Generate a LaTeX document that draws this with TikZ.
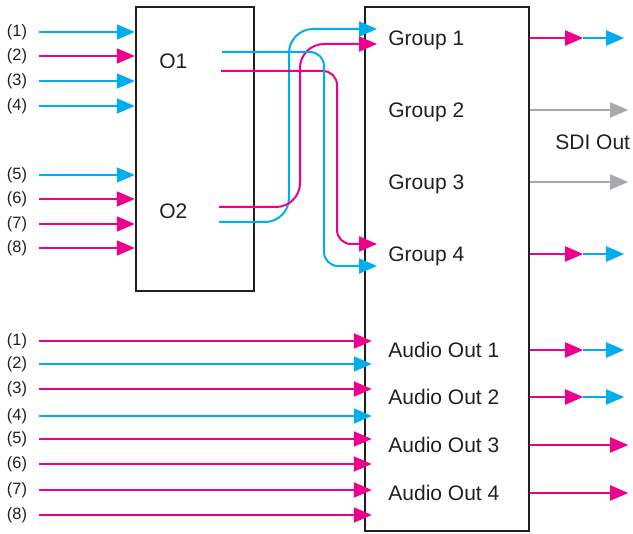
\documentclass[tikz,border=0pt]{standalone}
\usepackage{fontspec}
\setmainfont{Liberation Sans}
\usetikzlibrary{arrows.meta}
\definecolor{sdicyan}{RGB}{0,174,239}
\definecolor{sdimagenta}{RGB}{236,0,140}
\definecolor{sdigray}{RGB}{167,169,172}
\definecolor{sdiink}{RGB}{35,31,32}

\begin{document}
\begin{tikzpicture}[x=0.5pt, y=-0.5pt,
    sig/.style={line width=1pt, -{Triangle[length=9pt,width=7.5pt]}},
    box/.style={draw=sdiink, line width=1.2pt, inner sep=0pt},
    num/.style={font=\fontsize{8.2}{9}\selectfont, text=sdiink, inner sep=0pt},
    txt/.style={font=\fontsize{10.5}{12}\selectfont, text=sdiink, inner sep=0pt, anchor=base west}]

\useasboundingbox (0,0) rectangle (633,534);

% Blocks
\node[box, minimum width=59pt, minimum height=142pt] (mux) at (195,149) {};
\node[box, minimum width=82pt, minimum height=262pt] (sdi) at (447,269) {};

% Texts in the blocks
\node[txt] (o1) at (159,69) {O1};
\node[txt] (o2) at (159,219) {O2};
\foreach \n/\y in {1/38, 2/110, 3/182, 4/254}{
  \node[txt] (g\n) at (388,\y+7.5) {Group \n};
}
\foreach \n/\y in {1/350, 2/397, 3/445, 4/493}{
  \node[txt] (a\n) at (388,\y+7.5) {Audio Out \n};
}
\node[txt] (sdiout) at (555,150) {SDI Out};

% Inputs of the left block
\foreach \n/\y/\c in {1/32/sdicyan, 2/56/sdimagenta, 3/81/sdicyan, 4/106/sdicyan,
                      5/175/sdicyan, 6/199/sdimagenta, 7/224/sdimagenta, 8/248/sdimagenta}{
  \node[num] (in\n) at (17,\y) {(\n)};
  \draw[sig, \c] ([xshift=6pt]in\n.east) -- (in\n -| mux.west);
}

% Audio inputs
\foreach \n/\y/\c in {1/341/sdimagenta, 2/364/sdicyan, 3/389/sdimagenta, 4/416/sdicyan,
                      5/439/sdimagenta, 6/464/sdimagenta, 7/490/sdimagenta, 8/515/sdimagenta}{
  \node[num] (ain\n) at (17,\y) {(\n)};
  \coordinate (ain\n-end) at ([xshift=4pt]ain\n -| sdi.west);
  \draw[sig, \c] ([xshift=6pt]ain\n.east) -- (ain\n-end);
}

% O1/O2 routed to Group 1 and Group 4
\coordinate (o1c) at (222,52);
\coordinate (o1m) at (221,71);
\coordinate (o2m) at (219,207);
\coordinate (o2c) at (219,222);
\coordinate (g1a) at (377,29);
\coordinate (g1b) at (377,44);
\coordinate (g4a) at (377,244);
\coordinate (g4b) at (377,266);
\draw[sig, sdicyan, rounded corners=12pt] (o2c) -| (289,29) -- (g1a);
\draw[sig, sdimagenta, rounded corners=12pt] (o2m) -| (300,44) -- (g1b);
\draw[sig, sdimagenta, rounded corners=7pt] (o1m) -| (337,244) -- (g4a);
\draw[sig, sdicyan, rounded corners=7pt] (o1c) -| (324,266) -- (g4b);

% Outputs
\foreach \r in {g1, g4, a1, a2}{
  \coordinate (\r-out) at ([yshift=3.75pt]\r.base -| sdi.east);
  \draw[sig, sdimagenta] (\r-out) -- ++(53,0) coordinate (\r-mid);
  \draw[sig, sdicyan] (\r-mid) -- ++(41,0);
}
\foreach \r/\c in {g2/sdigray, g3/sdigray, a3/sdimagenta, a4/sdimagenta}{
  \coordinate (\r-out) at ([yshift=3.75pt]\r.base -| sdi.east);
  \draw[sig, \c] (\r-out) -- ++(98,0);
}

\end{tikzpicture}
\end{document}
